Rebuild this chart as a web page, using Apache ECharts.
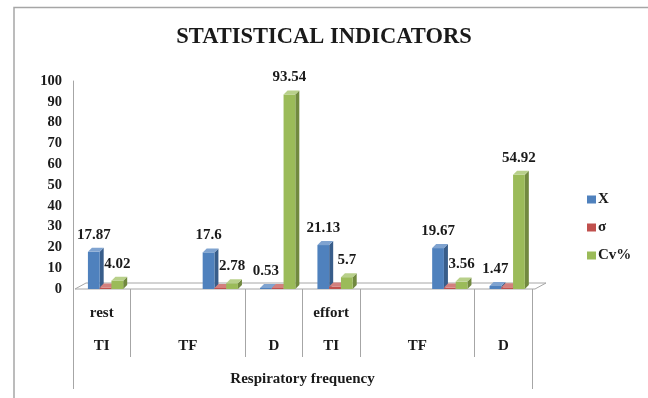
<!DOCTYPE html>
<html>
<head>
<meta charset="utf-8">
<script src="https://cdn.jsdelivr.net/npm/echarts@6/dist/echarts.min.js"></script>
<style>
  html, body { margin: 0; padding: 0; background: #fff; }
  #chart { width: 648px; height: 398px; }
</style>
</head>
<body>
<div id="chart"></div>
<script>
// Eight category slots: the TF headers span two slots each (first one empty)
const categories = ['TI', '', 'TF', 'D', 'TI', '', 'TF', 'D'];
const groupLabels = ['rest', '', '', '', 'effort', '', '', ''];
const seriesNames = ['X', 'σ', 'Cv%'];
const valuesX = [17.87, null, 17.6, 0.53, 21.13, null, 19.67, 1.47];
const valuesSigma = [0.72, null, 0.49, 0.5, 1.2, null, 0.7, 0.81];
const valuesCv = [4.02, null, 2.78, 93.54, 5.7, null, 3.56, 54.92];
const yTicks = [0, 10, 20, 30, 40, 50, 60, 70, 80, 90, 100];
const axisTitle = 'Respiratory frequency';
const chartTitle = 'STATISTICAL INDICATORS';

const FONT = '"Liberation Serif", "Times New Roman", serif';
const GRID_LINE = '#a6a6a6';
const TEXT = '#1a1a1a';

// face colours: front, side, top
const palette = [
  { front: '#4f81bd', side: '#385d8a', top: '#7fa3d0' },
  { front: '#c0504d', side: '#8c3836', top: '#d3807e' },
  { front: '#9bbb59', side: '#71893f', top: '#b8d08a' }
];
// left edge of each bar inside its slot, as a fraction of the slot width
const barOffsets = [-0.24, -0.035, 0.17];
const barWidth = 0.205;
const depthX = 4, depthY = -4;

// 17 evenly spaced points across the 8 slots: odd points are slot centres,
// even points are slot edges (used for the table separators)
const pointCount = categories.length * 2 + 1;
function rowLabels(map) {
  const arr = new Array(pointCount).fill('');
  Object.keys(map).forEach(k => { arr[k] = map[k]; });
  return arr;
}
// header row: TI / TF / D, TF centred over its two slots
const headerRow = rowLabels({});
const innerSeparators = [];
categories.forEach((c, i) => {
  if (!c) return;
  const spansTwo = i > 0 && categories[i - 1] === '';
  headerRow[spansTwo ? 2 * i : 2 * i + 1] = c;
  const start = spansTwo ? 2 * (i - 1) : 2 * i;
  if (start > 0) innerSeparators.push(start);
});
const outerSeparators = [0, pointCount - 1];
const titleRow = rowLabels({ [Math.floor(pointCount / 2)]: axisTitle });

function barRenderer(k, showLabel) {
  return function (params, api) {
    const v = api.value(1);
    if (v == null || isNaN(v)) return null;
    const idx = api.value(0);
    const topPt = api.coord([idx, v]);
    const basePt = api.coord([idx, 0]);
    const w = api.size([1, 0])[0];
    const x0 = basePt[0] + barOffsets[k] * w;
    const bw = barWidth * w;
    const top = topPt[1];
    const bottom = basePt[1];
    const col = palette[k];
    const children = [
      { type: 'polygon', shape: { points: [[x0 + bw, top], [x0 + bw + depthX, top + depthY], [x0 + bw + depthX, bottom + depthY], [x0 + bw, bottom]] },
        style: { fill: col.side } },
      { type: 'rect', shape: { x: x0, y: top, width: bw, height: bottom - top },
        style: { fill: col.front } },
      { type: 'polygon', shape: { points: [[x0, top], [x0 + depthX, top + depthY], [x0 + bw + depthX, top + depthY], [x0 + bw, top]] },
        style: { fill: col.top } }
    ];
    if (showLabel) {
      children.push({
        type: 'text',
        style: {
          x: x0 + bw / 2, y: top - 17, text: String(v),
          align: 'center', verticalAlign: 'middle',
          font: 'bold 15px ' + FONT, fill: TEXT
        }
      });
    }
    return { type: 'group', children };
  };
}

function floorRenderer(params, api) {
  const first = api.coord([0, 0]);
  const last = api.coord([categories.length - 1, 0]);
  const w = api.size([1, 0])[0];
  const l = first[0] - w / 2 + 2, r = last[0] + w / 2 + 3, y = first[1];
  return {
    type: 'polygon',
    shape: { points: [[l, y], [l + 11, y - 6], [r + 11, y - 6], [r, y]] },
    style: { fill: '#ffffff', stroke: GRID_LINE, lineWidth: 1 }
  };
}

const chart = echarts.init(document.getElementById('chart'), null, { renderer: 'canvas' });

const hiddenCat = {
  type: 'category', gridIndex: 0, position: 'bottom',
  axisLine: { show: false }, splitLine: { show: false }
};
const tableLabel = { fontFamily: FONT, fontWeight: 'bold', fontSize: 15, color: TEXT };

chart.setOption({
  animation: false,
  backgroundColor: '#ffffff',
  title: {
    text: chartTitle, left: 'center', top: 21,
    textStyle: { fontFamily: FONT, fontWeight: 'bold', fontSize: 22.5, color: TEXT }
  },
  legend: {
    data: seriesNames, orient: 'vertical', left: 582, top: 187,
    icon: 'rect', itemWidth: 9, itemHeight: 8, itemGap: 13,
    textStyle: { fontFamily: FONT, fontWeight: 'bold', fontSize: 15, color: TEXT, padding: [0, 0, 0, -3] }
  },
  grid: { left: 73, right: 116, top: 81, bottom: 109, containLabel: false },
  xAxis: [
    Object.assign({}, hiddenCat, {
      data: categories, boundaryGap: true,
      axisTick: { show: false }, axisLabel: { show: false }
    }),
    // TI / TF / D row with inner separators
    Object.assign({}, hiddenCat, {
      data: headerRow, boundaryGap: false,
      axisTick: { show: true, length: 68, interval: (i) => innerSeparators.indexOf(i) >= 0,
        lineStyle: { color: GRID_LINE, width: 1 } },
      axisLabel: Object.assign({ show: true, interval: 0, margin: 57, verticalAlign: 'middle' }, tableLabel)
    }),
    // rest / effort row
    Object.assign({}, hiddenCat, {
      data: groupLabels, boundaryGap: true,
      axisTick: { show: false },
      axisLabel: Object.assign({ show: true, interval: 0, margin: 24, verticalAlign: 'middle' }, tableLabel)
    }),
    // axis title row with outer border lines
    Object.assign({}, hiddenCat, {
      data: titleRow, boundaryGap: false,
      axisTick: { show: true, length: 100, interval: (i) => outerSeparators.indexOf(i) >= 0,
        lineStyle: { color: GRID_LINE, width: 1 } },
      axisLabel: Object.assign({ show: true, interval: 0, margin: 90, verticalAlign: 'middle' }, tableLabel)
    })
  ],
  yAxis: {
    type: 'value', min: yTicks[0], max: yTicks[yTicks.length - 1],
    interval: yTicks[1] - yTicks[0],
    axisLine: { show: true, lineStyle: { color: GRID_LINE, width: 1 } },
    axisTick: { show: false },
    splitLine: { show: false },
    axisLabel: { margin: 11, fontFamily: FONT, fontWeight: 'bold', fontSize: 14.5, color: TEXT }
  },
  series: [
    { type: 'custom', name: 'floor', z: 1, renderItem: floorRenderer, data: [[0, 0]],
      encode: { x: 0, y: 1 }, silent: true },
    { type: 'custom', name: seriesNames[0], z: 3, itemStyle: { color: palette[0].front },
      renderItem: barRenderer(0, true), data: valuesX.map((v, i) => [i, v]), encode: { x: 0, y: 1 } },
    { type: 'custom', name: seriesNames[1], z: 3, itemStyle: { color: palette[1].front },
      renderItem: barRenderer(1, false), data: valuesSigma.map((v, i) => [i, v]), encode: { x: 0, y: 1 } },
    { type: 'custom', name: seriesNames[2], z: 3, itemStyle: { color: palette[2].front },
      renderItem: barRenderer(2, true), data: valuesCv.map((v, i) => [i, v]), encode: { x: 0, y: 1 } }
  ],
  graphic: [
    { type: 'polyline', z: 10, shape: { points: [[14, 400], [14, 7.5], [650, 7.5]] },
      style: { stroke: GRID_LINE, lineWidth: 1.5, fill: null } }
  ]
});
</script>
</body>
</html>
